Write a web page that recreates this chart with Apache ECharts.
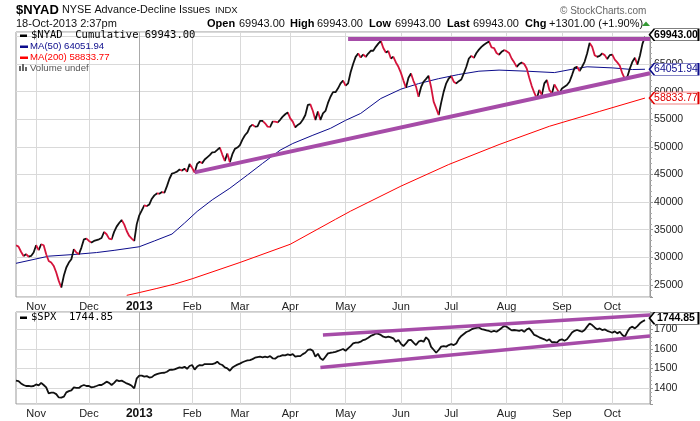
<!DOCTYPE html>
<html><head><meta charset="utf-8">
<script src="https://cdn.jsdelivr.net/npm/echarts@6/dist/echarts.min.js"></script>
<style>html,body{margin:0;padding:0;background:#fff}#c{width:700px;height:421px}</style>
</head><body><div id="c"></div>
<script>
// ---- categories: NYSE trading days ----
const holidays = ['2012-10-29','2012-10-30','2012-11-22','2012-12-25','2013-01-01','2013-01-21',
  '2013-02-18','2013-03-29','2013-05-27','2013-07-04','2013-09-02'];
const firstDay = [2012, 9, 18], lastDay = [2013, 9, 22];
const monthNames = ['Jan','Feb','Mar','Apr','May','Jun','Jul','Aug','Sep','Oct','Nov','Dec'];

// ---- $NYAD cumulative (daily) ----
const nyad = [
32170,31930,31000,30240,30540,30130,30240,30850,32170,31300,
32350,32170,30540,29330,29040,28430,27240,25720,24530,26630,
28140,29040,29640,31450,30850,30540,31750,33250,33380,32950,
32660,32950,33100,33250,33490,34570,34160,33380,33250,34600,
35550,36200,36740,35960,34750,33850,33380,32950,36000,37590,
38500,39390,39270,39570,40600,41200,41560,41510,41800,41690,
42880,44220,45170,45300,45500,45900,45700,46050,45500,46900,
46200,45350,46900,47300,47050,47700,48100,48500,49000,49050,
49450,49870,48600,47460,48800,47210,48660,49630,49870,50300,
51300,52100,52600,53660,54000,53660,53700,54690,54700,54260,
53660,53600,54560,54550,54440,54900,55470,55900,56240,55160,
54560,53530,53970,54260,54900,55770,57580,57690,56500,54870,
56400,54870,56060,56500,57950,59070,59900,59900,60590,61480,
62000,61070,61500,63500,65000,66300,66900,66200,66720,66300,
66900,67400,67400,68110,68700,69200,67900,67080,67330,66000,
66300,65280,64500,63400,62000,60710,62500,63290,61910,60900,
59070,60800,61790,62300,62870,60800,58180,57000,55770,58000,
60000,61500,62380,62800,61790,61480,61900,62200,63290,64500,
66000,66480,66120,67000,67600,68110,68500,68800,69100,68000,
67900,67000,66700,67210,67510,67330,67000,66000,65300,64500,
65000,65280,65000,64190,62500,61000,59800,58770,60290,59390,
61500,62100,60300,59680,61300,60500,59680,60580,60890,61190,
61790,63000,64300,64500,63720,64500,65400,66900,68800,68110,
66610,66300,66480,66900,66610,65900,66610,66700,65800,65300,
64700,63290,62300,62700,64190,65400,66120,64900,66500,68642,
69943];

// ---- moving averages (read at trading-day index) ----
const ma50 = [[0,28900],[13,30200],[23,30500],[32,30850],[39,31250],[49,31900],[55,32950],[62,34200],
  [67,36200],[72,38300],[78,40400],[85,42500],[92,44900],[98,47000],[105,49400],[110,50600],[118,52100],
  [125,53350],[131,54800],[137,56050],[145,58750],[153,60450],[160,61450],[168,62350],[176,63100],
  [184,63700],[192,63900],[203,63700],[214,63450],[221,64050],[227,64500],[237,64300],[245,64000],[250,64051.94]];
const ma200 = [[44,23100],[49,23600],[56,24350],[63,25130],[70,26100],[89,29050],[109,32350],[127,36870],
  [133,38360],[153,42880],[172,46800],[192,50410],[212,53720],[232,56420],[250,58833.77]];

// ---- $SPX (daily) ----
const spx = [
1439,1437,1425,1417,1412,1413,1410,1412,1420,1415,
1428,1417,1405,1375,1378,1378,1371,1354,1353,1358,
1380,1386,1390,1405,1403,1402,1412,1417,1412,1412,
1405,1408,1412,1417,1417,1425,1434,1428,1417,1428,
1442,1437,1439,1432,1425,1420,1413,1400,1451,1464,
1464,1459,1462,1455,1457,1467,1472,1476,1478,1479,
1484,1493,1494,1496,1501,1506,1504,1509,1499,1513,
1518,1495,1510,1518,1516,1523,1523,1523,1523,1526,
1535,1523,1518,1506,1501,1489,1505,1513,1520,1525,
1532,1537,1541,1543,1548,1555,1558,1560,1557,1560,
1557,1563,1552,1550,1560,1563,1568,1567,1572,1568,
1573,1560,1563,1563,1573,1580,1594,1597,1590,1560,
1575,1552,1543,1560,1577,1580,1582,1585,1589,1594,
1599,1590,1602,1614,1627,1631,1631,1636,1644,1648,
1656,1665,1670,1678,1675,1670,1661,1658,1661,1658,
1653,1636,1644,1625,1614,1627,1644,1645,1631,1619,
1636,1641,1636,1658,1645,1610,1595,1580,1594,1611,
1614,1611,1619,1624,1619,1627,1650,1665,1675,1685,
1690,1698,1703,1706,1708,1700,1697,1693,1690,1686,
1691,1686,1695,1705,1715,1712,1703,1693,1695,1693,
1691,1695,1686,1698,1703,1688,1670,1665,1658,1653,
1648,1641,1648,1633,1634,1631,1644,1648,1641,1648,
1665,1682,1691,1695,1691,1686,1695,1712,1728,1720,
1708,1698,1703,1695,1698,1691,1686,1681,1688,1678,
1686,1670,1661,1686,1705,1712,1703,1715,1729,1738,
1744.85];

// ---- trend lines drawn on the chart ----
const nyadResistance = [[132,69550],[252,69550]];
const nyadSupport = [[71,45380],[252,63315]];
const spxUpper = [[122,1670],[252,1771]];
const spxLower = [[121,1505],[252,1665]];

// ---- build categories ----
const dates = [];
for (let t = Date.UTC(...firstDay); t <= Date.UTC(...lastDay); t += 86400000) {
  const d = new Date(t), wd = d.getUTCDay(), s = d.toISOString().slice(0,10);
  if (wd === 0 || wd === 6 || holidays.includes(s)) continue;
  dates.push(s);
}
const monthStart = new Set();
for (let i = 1; i < dates.length; i++) if (dates[i].slice(5,7) !== dates[i-1].slice(5,7)) monthStart.add(i);
const janIdx = dates.findIndex(s => s.startsWith('2013-01'));
const lastIdx = nyad.length - 1;

const UP = '#111111', DOWN = '#d4143c', PURPLE = '#a64ca8', NAVY = '#0c0c8c', RED = '#ff0000';
const pieces = [];
{
  let start = 0, dir = nyad[1] >= nyad[0];
  for (let i = 2; i <= nyad.length; i++) {
    const d = i < nyad.length ? nyad[i] >= nyad[i-1] : null;
    if (d !== dir) {
      const p = { lte: i - 1, color: dir ? UP : DOWN };
      if (pieces.length) p.gt = start; else p.gte = start;
      pieces.push(p);
      start = i - 1; dir = d;
    }
  }
}

const FONT = 'Liberation Sans';
function xAx(gi) {
  return {
    type: 'category', gridIndex: gi, data: dates, boundaryGap: false,
    axisLine: { show: false }, axisTick: { show: false },
    axisLabel: {
      interval: (i) => monthStart.has(i), margin: 4, fontSize: 11, color: '#222', fontFamily: FONT,
      formatter: (v) => { const m = +v.slice(5,7) - 1; return m === 0 ? '{y|' + v.slice(0,4) + '}' : monthNames[m]; },
      rich: { y: { fontWeight: 'bold', fontSize: 12, color: '#111', fontFamily: FONT } }
    },
    splitLine: { show: true, interval: (i) => monthStart.has(i), lineStyle: { color: '#d9d9d9', width: 1 } }
  };
}
function yAx(gi, min, max, split) {
  return {
    type: 'value', gridIndex: gi, position: 'right', min, max, splitNumber: split,
    axisLine: { show: true, lineStyle: { color: '#999' } },
    axisTick: { show: true, length: 3, lineStyle: { color: '#999' } },
    minorTick: { show: true, splitNumber: 5, length: 2, lineStyle: { color: '#aaa' } },
    axisLabel: { margin: 4, fontSize: 10.5, color: '#222', fontFamily: FONT, showMinLabel: false, showMaxLabel: false,
      formatter: (v) => String(v) },
    splitLine: { show: true, lineStyle: { color: '#d9d9d9' } }
  };
}
function tag(val, text, color, bold, dy) {
  return {
    silent: true, animation: false,
    symbol: 'path://M0,6 L5,0 L50,0 L50,12 L5,12 Z', symbolSize: [49, 12], symbolKeepAspect: false,
    itemStyle: { color: '#fff', borderColor: color, borderWidth: 1 },
    label: { show: true, position: 'inside', formatter: text, color: color, fontSize: 10.5,
      fontWeight: bold ? 'bold' : 'normal', fontFamily: FONT, offset: [2, 0] },
    data: [{ coord: [lastIdx, val], symbolOffset: [29, dy || 0] }]
  };
}
function janLine() {
  return { silent: true, z: 1, symbol: ['none','none'], label: { show: false },
    lineStyle: { color: '#aaaaaa', type: 'solid', width: 1 }, data: [{ xAxis: dates[janIdx] }] };
}
function trend(data, xi, w) {
  return { type: 'line', xAxisIndex: xi, yAxisIndex: xi, data, showSymbol: false, z: 4, silent: true,
    lineStyle: { color: PURPLE, width: w }, animation: false };
}

const txt = (x, y, text, font, fill) => ({ type: 'text', x, y, silent: true, z: 100,
  style: { text, font, fill, align: 'left', verticalAlign: 'middle' } });
const rect = (x, y, w, h, fill) => ({ type: 'rect', silent: true, z: 100, shape: { x, y, width: w, height: h }, style: { fill } });
const mono = '10.5px "DejaVu Sans Mono"';
const small = '9.6px "Liberation Sans"';
const info = '11px "Liberation Sans"', infoB = 'bold 11px "Liberation Sans"';

const chart = echarts.init(document.getElementById('c'), null, { renderer: 'canvas', width: 700, height: 421 });
chart.setOption({
  animation: false,
  backgroundColor: '#fff',
  grid: [
    { left: 16, right: 50, top: 32, height: 265, show: true, borderColor: '#999', borderWidth: 1, backgroundColor: 'transparent', outerBoundsMode: 'none' },
    { left: 16, right: 50, top: 312, height: 92, show: true, borderColor: '#999', borderWidth: 1, backgroundColor: 'transparent', outerBoundsMode: 'none' }
  ],
  xAxis: [xAx(0), xAx(1)],
  yAxis: [yAx(0, 22800, 70800, 10), yAx(1, 1321, 1786, 5)],
  visualMap: [{ type: 'piecewise', show: false, seriesIndex: 2, dimension: 0, pieces }],
  series: [
    { type: 'line', name: 'MA(50)', xAxisIndex: 0, yAxisIndex: 0, data: ma50, showSymbol: false, silent: true,
      lineStyle: { color: NAVY, width: 1 }, z: 2, markPoint: tag(64051.94, '64051.94', NAVY, false, 0) },
    { type: 'line', name: 'MA(200)', xAxisIndex: 0, yAxisIndex: 0, data: ma200, showSymbol: false, silent: true,
      lineStyle: { color: RED, width: 1 }, z: 2, markPoint: tag(58833.77, '58833.77', '#e00000', false, 0), markLine: janLine() },
    { type: 'line', name: '$NYAD', xAxisIndex: 0, yAxisIndex: 0, data: nyad, showSymbol: false, silent: true,
      lineStyle: { width: 1.8 }, z: 3, markPoint: tag(69943, '69943.00', '#000', true, -2) },
    trend(nyadResistance, 0, 4),
    trend(nyadSupport, 0, 4),
    { type: 'line', name: '$SPX', xAxisIndex: 1, yAxisIndex: 1, data: spx, showSymbol: false, silent: true,
      lineStyle: { color: '#111', width: 1.8 }, z: 3, markPoint: tag(1744.85, '1744.85', '#000', true, -2), markLine: janLine() },
    trend(spxUpper, 1, 3.5),
    trend(spxLower, 1, 3.5)
  ],
  graphic: [
    txt(16, 10, '$NYAD', 'bold 13px "Liberation Sans"', '#000'),
    txt(62, 10, 'NYSE Advance-Decline Issues', '10.8px "Liberation Sans"', '#111'),
    txt(215, 10.5, 'INDX', '9.5px "Liberation Sans"', '#111'),
    txt(560, 11, '\u00A9 StockCharts.com', '10px "Liberation Sans"', '#666'),
    txt(16, 23.5, '18-Oct-2013 2:37pm', info, '#111'),
    txt(207, 23.5, 'Open', infoB, '#000'), txt(239, 23.5, '69943.00', info, '#111'),
    txt(290, 23.5, 'High', infoB, '#000'), txt(317, 23.5, '69943.00', info, '#111'),
    txt(369, 23.5, 'Low', infoB, '#000'), txt(395, 23.5, '69943.00', info, '#111'),
    txt(447, 23.5, 'Last', infoB, '#000'), txt(473, 23.5, '69943.00', info, '#111'),
    txt(525, 23.5, 'Chg', infoB, '#000'), txt(549, 23.5, '+1301.00 (+1.90%)', info, '#111'),
    { type: 'polygon', silent: true, z: 100, shape: { points: [[642, 26], [650, 26], [646, 21.5]] }, style: { fill: '#339933' } },
    rect(20, 34.5, 7, 2.5, '#000'), txt(31, 35.5, '$NYAD  Cumulative 69943.00', mono, '#000'),
    rect(20, 45.5, 8, 2.5, NAVY), txt(30, 46.5, 'MA(50) 64051.94', small, NAVY),
    rect(20, 56.5, 8, 2.5, RED), txt(30, 57.5, 'MA(200) 58833.77', small, RED),
    rect(19, 66, 2, 5, '#666'), rect(22, 64, 2, 7, '#666'), rect(25, 67, 2, 4, '#666'),
    txt(30, 68, 'Volume undef', small, '#555'),
    rect(20, 316.5, 7, 2.5, '#000'), txt(31, 317.5, '$SPX  1744.85', mono, '#000')
  ]
});
</script></body></html>
